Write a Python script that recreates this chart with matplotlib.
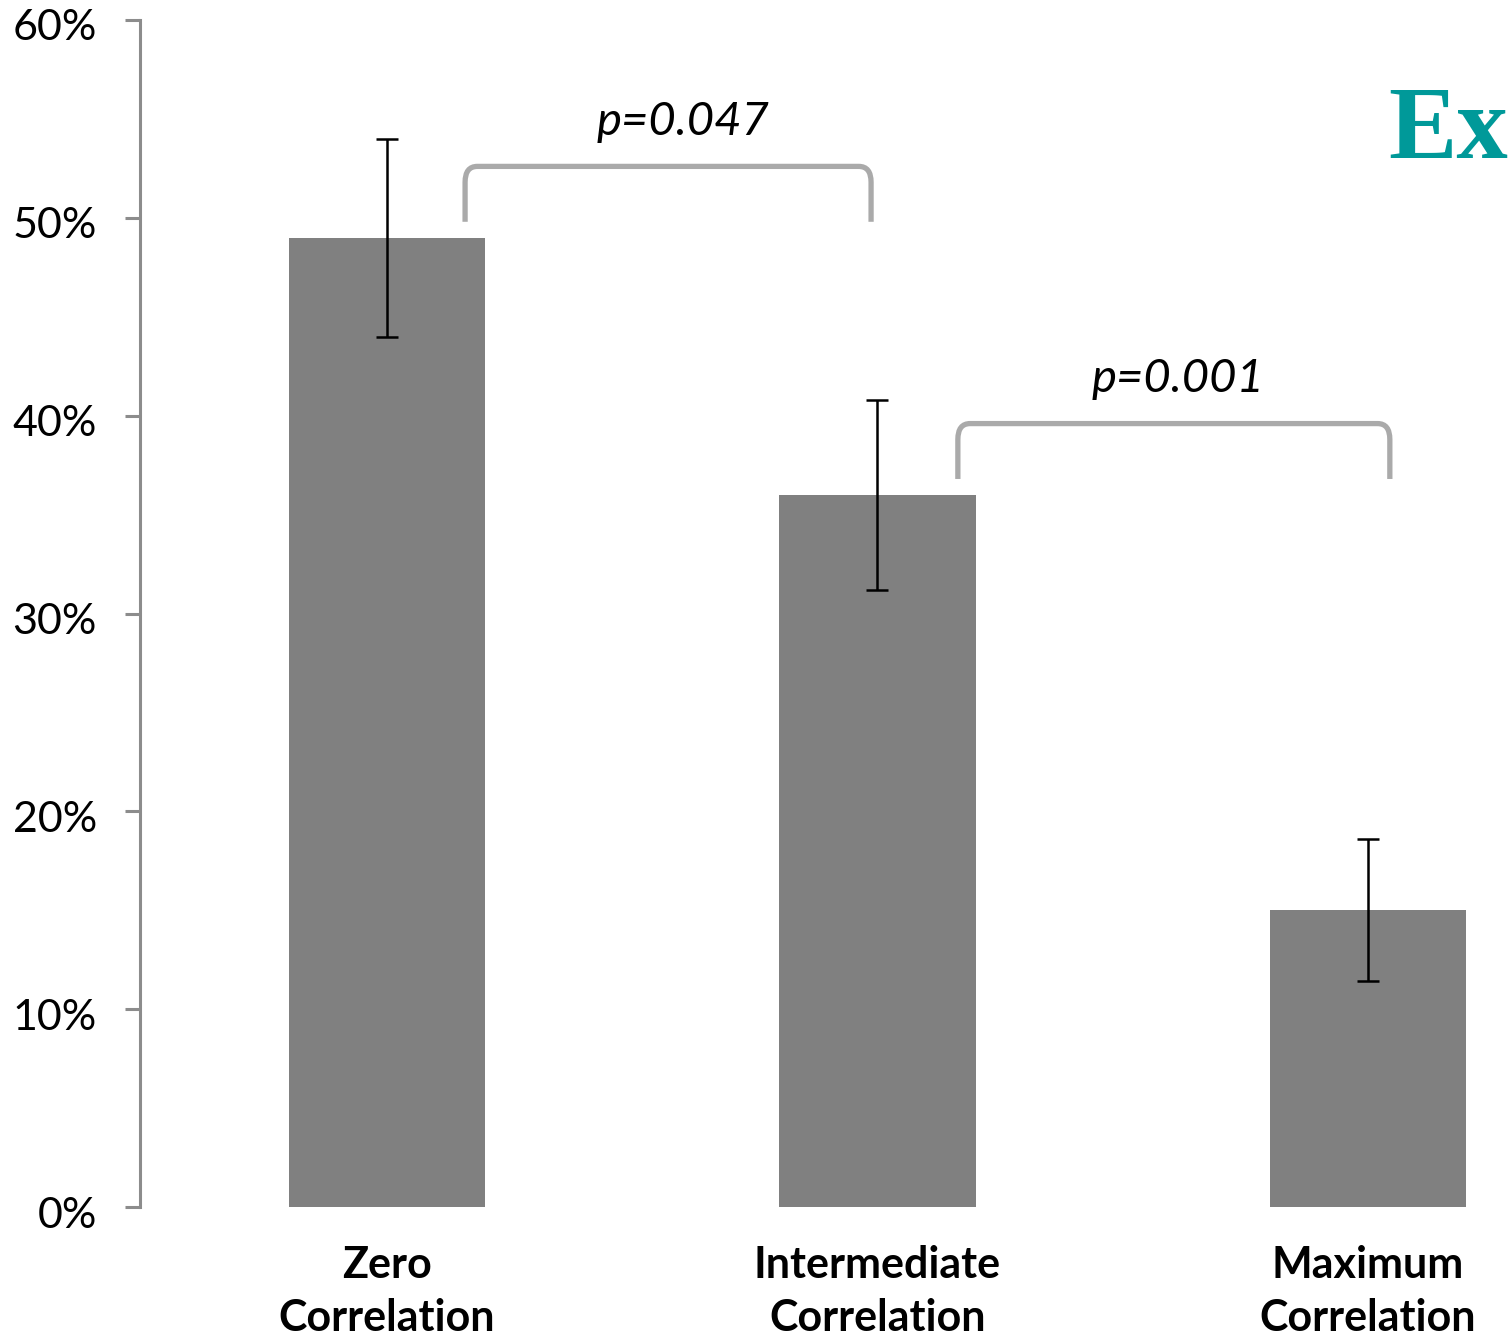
import numpy as np
import matplotlib.pyplot as plt
import matplotlib.transforms as mtransforms
from matplotlib.path import Path
from matplotlib.patches import PathPatch

plt.rcParams['font.family'] = ['Lato', 'DejaVu Sans']

# data
categories = ['Zero\nCorrelation', 'Intermediate\nCorrelation', 'Maximum\nCorrelation']
values = [49.0, 36.0, 15.0]          # percent
errors = [5.0, 4.8, 3.6]             # +/- percent
p_labels = ['p=0.047', 'p=0.001']

fig = plt.figure(figsize=(15.08, 13.37), dpi=100)
ax = fig.add_axes([140 / 1508, 130 / 1337, 1 - 140 / 1508, 1187 / 1337])

x = np.arange(len(categories))
ax.bar(x, values, width=0.4, color='#808080', zorder=2)
ax.errorbar(x, values, yerr=errors, fmt='none', ecolor='black',
            elinewidth=1.8, capsize=8, capthick=1.8, zorder=3)

ax.set_xlim(-0.504, 2.286)
ax.set_ylim(0, 60)
ax.set_yticks(np.arange(0, 61, 10))
ax.set_yticklabels([f'{v}%' for v in range(0, 61, 10)], fontsize=31)
ax.set_xticks(x)
ax.set_xticklabels(categories, fontsize=31, fontweight='bold', linespacing=1.4)

for s in ['top', 'right', 'bottom']:
    ax.spines[s].set_visible(False)
ax.spines['left'].set_color('#8c8c8c')
ax.spines['left'].set_linewidth(2.2)
ax.tick_params(axis='y', length=11, width=2.2, color='#8c8c8c', pad=20)
ax.tick_params(axis='x', length=0, pad=27)

# y labels sit a touch below their ticks in the original
shift = mtransforms.ScaledTranslation(0, -5 / 100, fig.dpi_scale_trans)
for lbl in ax.get_yticklabels():
    lbl.set_transform(lbl.get_transform() + shift)


def bracket(x0, x1, ylow, ytop, r=0.025, rh=0.8):
    # square bracket with rounded corners
    verts = [(x0, ylow), (x0, ytop - rh), (x0, ytop), (x0 + r, ytop),
             (x1 - r, ytop), (x1, ytop), (x1, ytop - rh), (x1, ylow)]
    codes = [Path.MOVETO, Path.LINETO, Path.CURVE3, Path.CURVE3,
             Path.LINETO, Path.CURVE3, Path.CURVE3, Path.LINETO]
    ax.add_patch(PathPatch(Path(verts, codes), fill=False, edgecolor='#aaaaaa',
                           linewidth=3.8, capstyle='butt', zorder=1))


bracket(0.159, 0.987, 49.8, 52.6)
bracket(1.164, 2.045, 36.8, 39.6)
ax.text(0.603, 54.85, p_labels[0], fontsize=34, style='italic',
        ha='center', va='center')
ax.text(1.613, 41.85, p_labels[1], fontsize=34, style='italic',
        ha='center', va='center')

fig.text(1388 / 1508, 1 - 158 / 1337, 'Ex', fontsize=74, fontweight='bold',
         family='Liberation Serif', color='#009999', ha='left', va='baseline')

fig.savefig('out.png', dpi=100)
